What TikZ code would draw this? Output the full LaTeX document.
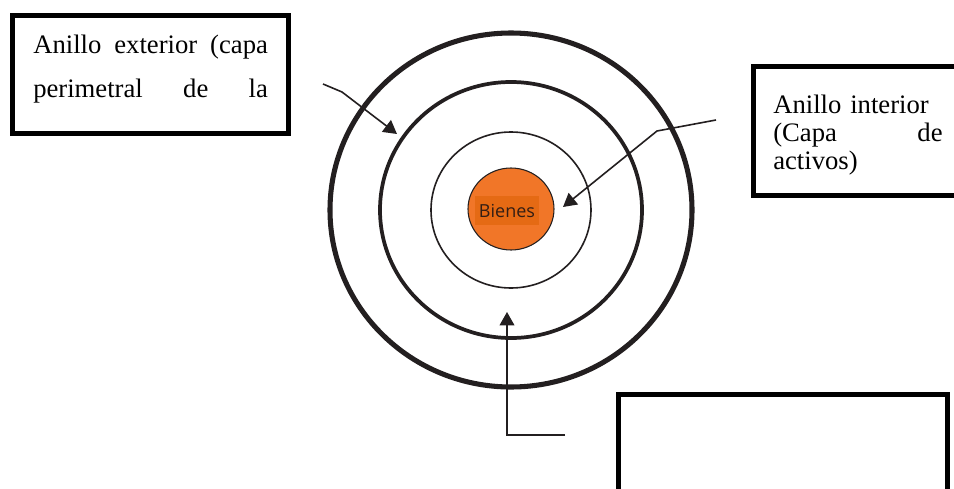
\documentclass[tikz,border=0pt]{standalone}
\usepackage{fontspec}
\setmainfont{Liberation Serif}
\newfontfamily\bienesfont{Open Sans}
\usetikzlibrary{arrows.meta,positioning,shapes.geometric}

\definecolor{tinta}{RGB}{35,31,32}
\definecolor{naranja}{RGB}{241,118,40}
\definecolor{naranjaosc}{RGB}{229,106,20}
\definecolor{marron}{RGB}{50,30,20}

\tikzset{
  anillo/.style={draw=tinta},
  recuadro/.style={draw=black, line width=3.75pt, rectangle, inner sep=0pt},
  textoext/.style={inner sep=0pt, anchor=north west, align=left, font=\fontsize{20}{33}\selectfont},
  textoint/.style={inner sep=0pt, anchor=north west, align=left, font=\fontsize{20}{21}\selectfont},
  flecha/.style={draw=tinta, line width=1.2pt, -{Triangle[length=10pt,width=11pt]}},
}

\begin{document}
\begin{tikzpicture}[x=0.75pt, y=-0.75pt]
  \clip (0,0) rectangle (954,489);

  % 1. anillos concentricos
  \coordinate (c) at (511,210);
  \draw[anillo, line width=3.8pt] (c) ellipse [x radius=181, y radius=177];
  \draw[anillo, line width=2.8pt] (c) ellipse [x radius=131, y radius=128];
  \draw[anillo, line width=1.2pt] (c) ellipse [x radius=80, y radius=78];

  % 2. nucleo: bienes
  \node[ellipse, draw=tinta, line width=0.8pt, fill=naranja,
        minimum width=64.5pt, minimum height=61.5pt] (bienes) at (511,209) {};
  \node[fill=naranjaosc, minimum width=48pt, minimum height=21.75pt, inner sep=0pt,
        text=marron, font=\bienesfont\fontsize{13.5}{13.5}\selectfont] (bieneslbl)
        at (507,210.5) {Bienes};

  % 3. recuadros de texto
  % anillo exterior (arriba a la izquierda)
  \node[recuadro, minimum width=207pt, minimum height=88.5pt] (extbox) at (150,74) {};
  \node[textoext, text width=176pt] (exttext) at (33,35)
       {\makebox[176pt]{Anillo\hfill exterior\hfill (capa}\\
        \makebox[176pt]{perimetral\hfill de\hfill la}};

  % anillo interior (derecha, cortado por el borde)
  \node[recuadro, minimum width=185pt, minimum height=96.4pt] (intbox) at (876.5,131) {};
  \node[textoint, text width=127pt] (inttext) at (773,95)
       {Anillo interior\\
        \makebox[127pt]{(Capa\hfill de}\\
        activos)};

  % recuadro vacio (abajo a la derecha)
  \node[recuadro, minimum width=246.75pt, minimum height=109.5pt] (vaciobox) at (782.5,467) {};

  % 4. flechas
  \coordinate (f1a) at (323,84);
  \coordinate (f1b) at (342,92);
  \coordinate (f1c) at (397,134);
  \draw[flecha] (f1a) -- (f1b) -- (f1c);

  \coordinate (f2a) at (716,120);
  \coordinate (f2b) at (657,131);
  \coordinate (f2c) at (563,207);
  \draw[flecha] (f2a) -- (f2b) -- (f2c);

  \coordinate (f3a) at (565,435);
  \coordinate (f3b) at (507,435);
  \coordinate (f3c) at (507,312);
  \draw[flecha] (f3a) -- (f3b) -- (f3c);
\end{tikzpicture}
\end{document}
